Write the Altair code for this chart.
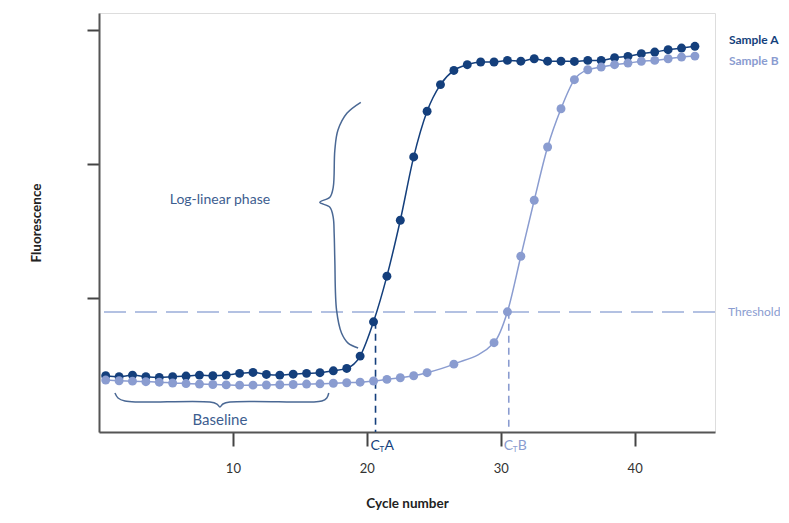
import altair as alt
import pandas as pd

# ---- data ----
cycle_a = [0.5, 1.5, 2.5, 3.5, 4.5, 5.5, 6.5, 7.5, 8.5, 9.5,
           10.5, 11.5, 12.5, 13.5, 14.5, 15.5, 16.5, 17.5, 18.5, 19.5,
           20.5, 21.5, 22.5, 23.5, 24.5, 25.5, 26.5, 27.5, 28.5, 29.5,
           30.5, 31.5, 32.5, 33.5, 34.5, 35.5, 36.5, 37.5, 38.5, 39.5,
           40.5, 41.5, 42.5, 43.5, 44.5]
fluor_a = [0.420, 0.413, 0.425, 0.413, 0.408, 0.413, 0.418, 0.425, 0.420, 0.425,
           0.438, 0.445, 0.430, 0.425, 0.432, 0.438, 0.443, 0.457, 0.475, 0.567,
           0.823, 1.164, 1.582, 2.055, 2.396, 2.595, 2.701, 2.744, 2.764, 2.764,
           2.776, 2.770, 2.788, 2.770, 2.770, 2.768, 2.776, 2.776, 2.796, 2.806,
           2.826, 2.838, 2.856, 2.868, 2.881]

cycle_b = [0.5, 1.5, 2.5, 3.5, 4.5, 5.5, 6.5, 7.5, 8.5, 9.5,
           10.5, 11.5, 12.5, 13.5, 14.5, 15.5, 16.5, 17.5, 18.5, 19.5,
           20.5, 21.5, 22.5, 23.5, 24.5, 26.5, 29.5,
           30.5, 31.5, 32.5, 33.5, 34.5, 35.5, 36.5, 37.5, 38.5, 39.5,
           40.5, 41.5, 42.5, 43.5, 44.5]
fluor_b = [0.388, 0.383, 0.380, 0.376, 0.372, 0.366, 0.362, 0.358, 0.355, 0.352,
           0.350, 0.350, 0.351, 0.353, 0.355, 0.358, 0.360, 0.364, 0.368, 0.372,
           0.381, 0.393, 0.405, 0.420, 0.443, 0.507, 0.667,
           0.898, 1.313, 1.731, 2.129, 2.415, 2.632, 2.706, 2.726, 2.744, 2.756,
           2.769, 2.776, 2.788, 2.801, 2.808]

series_names = ["Sample A", "Sample B"]
threshold = 0.896
ct_positions = [20.65, 30.6]
ct_levels = [0.823, 0.898]
ct_letters = ["A", "B"]

x_ticks = [10, 20, 30, 40]
y_ticks = [1, 2, 3]

# brace outlines (in data units)
brace_log_x = [19.55, 18.51, 17.84, 17.61, 17.49, 17.24, 16.49, 17.24, 17.49,
               17.56, 17.61, 17.74, 18.11, 18.60, 19.35]
brace_log_y = [2.463, 2.381, 2.254, 2.104, 1.828, 1.754, 1.716, 1.679, 1.604,
               1.485, 1.284, 0.910, 0.739, 0.664, 0.627]
brace_base_x = [1.19, 1.42, 1.94, 3.06, 8.28, 8.81, 9.03, 9.25, 9.78, 15.75,
                16.64, 17.01, 17.16]
brace_base_y = [0.291, 0.254, 0.231, 0.224, 0.224, 0.209, 0.187, 0.209, 0.224,
                0.224, 0.231, 0.254, 0.291]

# ---- styling ----
A_COLOR = "#143f7c"
B_COLOR = "#8a9cd0"
THRESH_COLOR = "#9badd9"
TEXT_BLUE = "#3d5d8f"
BRACE_COLOR = "#4a6894"
AXIS_COLOR = "#555555"
FONT = "Lato"

df_a = pd.DataFrame({"x": cycle_a, "y": fluor_a, "s": series_names[0]})
df_b = pd.DataFrame({"x": cycle_b, "y": fluor_b, "s": series_names[1]})
df = pd.concat([df_a, df_b], ignore_index=True)

xenc = alt.X("x:Q", scale=alt.Scale(domain=[0, 46], nice=False, zero=False),
             axis=alt.Axis(values=x_ticks, grid=False, tickSize=14, tickWidth=2,
                           tickColor="#444444", domainColor=AXIS_COLOR, domainWidth=2,
                           labelFontSize=13, labelPadding=16, labelColor="#333333",
                           labelFont=FONT, title="Cycle number", titleFont=FONT,
                           titleFontSize=13.5, titleFontWeight="bold", titleColor="#222222",
                           titlePadding=21))
yenc = alt.Y("y:Q", scale=alt.Scale(domain=[0, 3.13], nice=False, zero=True),
             axis=alt.Axis(values=y_ticks, grid=False, labels=False, tickSize=12,
                           tickWidth=2, tickColor="#444444", domainColor=AXIS_COLOR,
                           domainWidth=2, title="Fluorescence", titleFont=FONT,
                           titleFontSize=13.5, titleFontWeight="bold", titleColor="#222222",
                           titlePadding=43))
color = alt.Color("s:N", scale=alt.Scale(domain=series_names, range=[A_COLOR, B_COLOR]),
                  legend=None)

base = alt.Chart(df)
lines = base.mark_line(strokeWidth=1.5, interpolate="monotone").encode(
    x=xenc, y=yenc, color=color, detail="s:N")
points = base.mark_point(filled=True, size=80, opacity=1).encode(
    x=xenc, y=yenc, color=color)

thr_df = pd.DataFrame({"y": [threshold]})
thr = alt.Chart(thr_df).mark_rule(color=THRESH_COLOR, strokeWidth=1.6,
                                  strokeDash=[22, 9]).encode(y=yenc)
thr_label = alt.Chart(pd.DataFrame({"x": [46], "y": [threshold], "t": ["Threshold"]})).mark_text(
    align="left", baseline="middle", dx=13, fontSize=12, font=FONT, color=B_COLOR
).encode(x=xenc, y=yenc, text="t:N")

ct_df = pd.DataFrame({"x": ct_positions, "y": ct_levels, "y0": [0, 0],
                      "s": series_names, "L": ct_letters})
ct_rules = alt.Chart(ct_df).mark_rule(strokeWidth=1.6, strokeDash=[7, 5]).encode(
    x=xenc, y=yenc, y2="y0:Q", color=color)
ct_c = alt.Chart(ct_df).mark_text(align="left", baseline="middle", dx=-5, dy=14,
                                  fontSize=14, font=FONT).encode(
    x=xenc, y=alt.Y("y0:Q"), text=alt.value("C"), color=color)
ct_t = alt.Chart(ct_df).mark_text(align="left", baseline="middle", dx=4, dy=18,
                                  fontSize=8, font=FONT).encode(
    x=xenc, y=alt.Y("y0:Q"), text=alt.value("T"), color=color)
ct_l = alt.Chart(ct_df).mark_text(align="left", baseline="middle", dx=9, dy=14,
                                  fontSize=14, font=FONT).encode(
    x=xenc, y=alt.Y("y0:Q"), text="L:N", color=color)

end_df = pd.DataFrame({"x": [cycle_a[-1], cycle_b[-1]], "y": [fluor_a[-1], fluor_b[-1]],
                       "s": series_names})
lab_a = alt.Chart(end_df.iloc[[0]]).mark_text(align="left", baseline="middle", dx=34, dy=-6,
                                              fontSize=12, font=FONT, fontWeight="bold").encode(
    x=xenc, y=yenc, text="s:N", color=color)
lab_b = alt.Chart(end_df.iloc[[1]]).mark_text(align="left", baseline="middle", dx=34, dy=5,
                                              fontSize=12, font=FONT, fontWeight="bold").encode(
    x=xenc, y=yenc, text="s:N", color=color)

brace_df = pd.concat([
    pd.DataFrame({"x": brace_log_x, "y": brace_log_y, "b": "log",
                  "o": list(range(len(brace_log_x)))}),
    pd.DataFrame({"x": brace_base_x, "y": brace_base_y, "b": "base",
                  "o": list(range(len(brace_base_x)))}),
], ignore_index=True)
braces = alt.Chart(brace_df).mark_line(color=BRACE_COLOR, strokeWidth=1.5,
                                       interpolate="catmull-rom").encode(
    x=xenc, y=yenc, detail="b:N", order="o:Q")

ann_df = pd.DataFrame({"x": [9.03, 9.03], "y": [1.731, 0.09],
                       "t": ["Log-linear phase", "Baseline"]})
ann1 = alt.Chart(ann_df.iloc[[0]]).mark_text(fontSize=14, font=FONT, color=TEXT_BLUE,
                                             baseline="middle").encode(x=xenc, y=yenc, text="t:N")
ann2 = alt.Chart(ann_df.iloc[[1]]).mark_text(fontSize=15, font=FONT, color=TEXT_BLUE,
                                             baseline="middle").encode(x=xenc, y=yenc, text="t:N")

chart = alt.layer(
    thr, ct_rules, braces, lines, points, thr_label, ct_c, ct_t, ct_l, lab_a, lab_b, ann1, ann2
).properties(
    width=616, height=419,
    autosize=alt.AutoSizeParams(type="none"),
    padding={"left": 91, "top": 5, "right": 65, "bottom": 82},
).configure_view(stroke=None).configure(background="white")

chart.save("out.html", embed_options={"renderer": "svg", "actions": False})
